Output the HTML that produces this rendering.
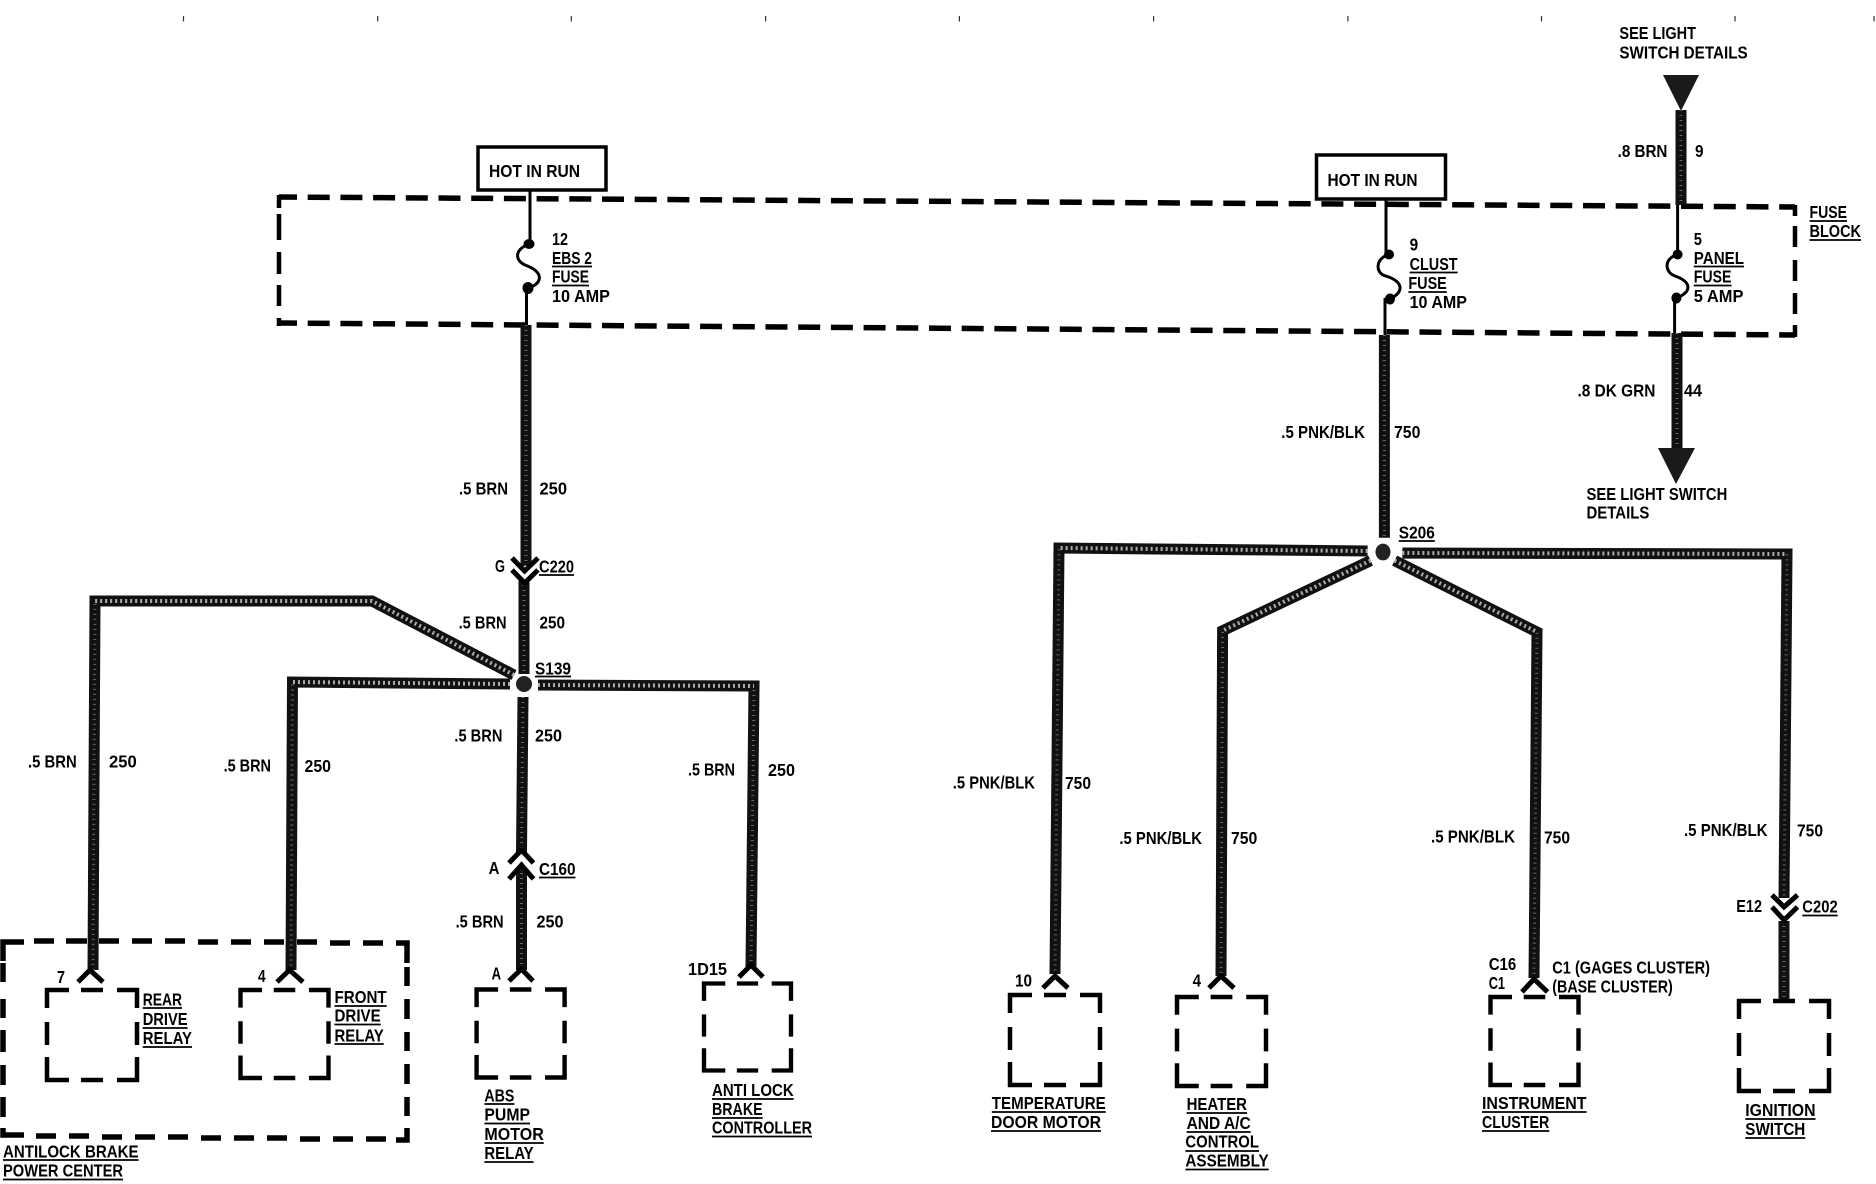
<!DOCTYPE html>
<html>
<head>
<meta charset="utf-8">
<style>
html,body{margin:0;padding:0;background:#fff;width:1876px;height:1184px;overflow:hidden}
svg{display:block}
text{font-family:"Liberation Sans",sans-serif;font-weight:bold;font-size:17.5px;fill:#000}
.d{fill:none;stroke:#000;stroke-width:5.5}
.t{fill:none;stroke:#000;stroke-width:3}
.c{fill:none;stroke:#000;stroke-width:5}
.u{fill:none;stroke:#000;stroke-width:1.8}
</style>
</head>
<body>
<svg xmlns="http://www.w3.org/2000/svg" width="1876" height="1184" viewBox="0 0 1876 1184">
<defs>
<path id="w" d="M526,325V566 M524,580V674 M514,675L372,601H95L93,970 M510,684L292.5,682L291,970 M538,685L754,686L751,967 M523,697L521.5,852 M521.5,868V970 M1384.4,335V537.7 M1367.6,551L1059,548L1055,974 M1402.4,553L1787,554L1784,898 M1784,921V1001 M1370.6,560.6L1222.6,630.7L1221,976 M1394.6,560.6L1537,632L1534,978 M1681,110V205 M1677,333V451"/>
<path id="h" d="M514,675L372,601H95 M510,684L292.5,682 M538,685L754,686 M1367.6,551L1059,548 M1402.4,553L1787,554 M1370.6,560.6L1222.6,630.7 M1394.6,560.6L1537,632"/>
<symbol id="b" overflow="visible" viewBox="0 0 90 90" width="90" height="90">
<path d="M0,18V0H22M34,0H56M70,0H90V18M0,32V55M90,32V55M0,67V90H22M34,90H56M70,90H90V67" fill="none" stroke="#000" stroke-width="4.5"/>
</symbol>
</defs>

<!-- ticks -->
<path fill="none" stroke="#333" stroke-width="1.2" d="M183.5,16V21.5M377.7,16V21.5M571.3,16V21.5M765.6,16V21.5M959.4,16V21.5M1153.6,16V21.5M1347.9,16V21.5M1541.5,16V21.5M1735,16V21.5M1874,16V21.5"/>

<!-- fuse block -->
<line class="d" x1="279" y1="197" x2="1795" y2="207" stroke-dasharray="22 10.7" stroke-dashoffset="4"/>
<line class="d" x1="279" y1="323" x2="1795" y2="335" stroke-dasharray="22 10.7" stroke-dashoffset="4"/>
<path class="d" style="stroke-width:4.5" d="M279,195V208M279,214V240M279,252V274M279,285V306M279,318V326M1795,205V216M1795,226V247M1795,260V281M1795,293V314M1795,325V337"/>

<!-- power center -->
<path class="d" d="M3,961V942H24M34,941H54M66,941H87M99,941H119M132,941H152M165,941H185M198,942H218M231,942H251M264,942H284M297,942H317M330,943H350M363,943H383M396,943H407V963"/>
<path class="d" d="M3,963V982M3,999V1018M3,1030V1052M3,1065V1085M3,1097V1117M3,1128V1135H24M36,1136H56M69,1136H89M102,1137H122M135,1137H155M168,1137H188M201,1138H221M234,1138H254M267,1138H287M300,1139H320M333,1139H353M366,1139H386M396,1140H407V1128M407,1116V1097M407,1084V1064M407,1051V1032M407,1019V999M407,986V967"/>

<!-- wires -->
<use href="#w" fill="none" stroke="#111" stroke-width="11"/>
<use href="#w" fill="none" stroke="#666" stroke-width="3" stroke-dasharray="1 4"/>
<use href="#h" fill="none" stroke="#aaa" stroke-width="4" stroke-dasharray="2 3"/>

<!-- hot boxes -->
<rect x="478" y="147" width="128" height="43" fill="#fff" stroke="#000" stroke-width="3.5"/>
<rect x="1316.5" y="155" width="129" height="44" fill="#fff" stroke="#000" stroke-width="3.5"/>

<!-- fuses -->
<path class="t" d="M530,190V245M526.5,290V325 M529,244C513,250 515,262 527.5,266C542,272 544,282 529,288"/>
<path class="t" d="M1386,199V253M1385,298V335 M1389,254.5C1375,258 1375,274 1386,276C1404,282 1404,292 1390,299"/>
<path class="t" d="M1677.6,205V253M1674.6,298V333 M1677.6,254.5C1664,258 1664,272 1675,276C1692,282 1692,292 1676.4,298"/>
<ellipse cx="529" cy="244" rx="5.5" ry="5"/><ellipse cx="528" cy="288" rx="5.5" ry="6"/>
<ellipse cx="1389" cy="254.5" rx="5" ry="5"/><ellipse cx="1390" cy="299" rx="5" ry="5.5"/>
<ellipse cx="1677.6" cy="254.5" rx="5" ry="5"/><ellipse cx="1676.4" cy="298" rx="5" ry="5.5"/>

<!-- arrows -->
<path d="M1663,75H1699L1681,111Z" fill="#1a1a1a"/>
<path d="M1658,448H1695L1676,484Z" fill="#1a1a1a"/>

<!-- nodes -->
<ellipse cx="524" cy="684" rx="8" ry="8" fill="#222"/>
<ellipse cx="1383" cy="552" rx="7.5" ry="8.4" fill="#222"/>

<!-- chevrons -->
<path class="c" d="M512,558L524.6,571L538,558 M512,570L524.6,583L538,570"/>
<path class="c" d="M509,863L521.5,850L533.5,863 M509,879L521.5,865L533.5,879"/>
<path class="c" d="M1772,895L1784,907L1797.5,895 M1772,907L1784,920L1797.5,907"/>
<path class="c" d="M78,982L90,970L103,982 M277,982L289.5,970L303,982 M509,981L521.5,969L533,981 M739,977L751,965L763,977 M1043,988L1055,976L1068,988 M1209,988L1221,976L1234,988 M1522,992L1534,979L1547.5,992"/>

<!-- dashed boxes -->
<use href="#b" x="47" y="990"/>
<use href="#b" x="240" y="990" width="89" height="88"/>
<use href="#b" x="476.6" y="989" width="88" height="89"/>
<use href="#b" x="704" y="982" width="87" height="90"/>
<use href="#b" x="1010" y="995"/>
<use href="#b" x="1177" y="996.5" width="89" height="90"/>
<use href="#b" x="1490.5" y="996.5" width="88" height="89"/>
<use href="#b" x="1739" y="1001"/>

<!-- underlines -->
<path class="u" d="M552,266.5H592M552,285.5H589M539,575H574M535,676.5H571M539,877.5H575.5M142.7,1008H182M142.7,1028H187.6M142.7,1047H192M334.5,1006H386.7M334.5,1024.5H380.7M334.5,1044H383.7M484.4,1104H514.4M484.4,1123.5H530M484.4,1143H543.8M484.4,1162H533.6M712,1099H793.7M712,1118H762.6M712,1136.5H812M3,1160H138.5M3,1179.5H123M1409.6,272.5H1457.6M1408.4,292H1446.8M1693.8,266.5H1744M1693.8,285.5H1731.5M1809.5,221H1847M1809.5,240H1861M1398.8,541H1434.8M1802.3,915.5H1837.7M991.8,1112H1105.7M991,1131H1101M1186.6,1113H1247M1186.6,1132H1250.7M1185.4,1151H1259M1185.4,1169.5H1268.7M1482,1112H1586.5M1482,1131H1549.3M1745.3,1119H1815.5M1745.3,1138H1805.3"/>

<!-- labels -->
<g>
<text x="489" y="177" textLength="91" lengthAdjust="spacingAndGlyphs">HOT IN RUN</text>
<text x="1327.5" y="186" textLength="90" lengthAdjust="spacingAndGlyphs">HOT IN RUN</text>

<text x="552" y="245" textLength="16" lengthAdjust="spacingAndGlyphs">12</text>
<text x="552" y="264" textLength="40" lengthAdjust="spacingAndGlyphs">EBS 2</text>
<text x="552" y="282.4" textLength="37" lengthAdjust="spacingAndGlyphs">FUSE</text>
<text x="552" y="302" textLength="58" lengthAdjust="spacingAndGlyphs">10 AMP</text>

<text x="459" y="494.4" textLength="49" lengthAdjust="spacingAndGlyphs">.5 BRN</text>
<text x="539.5" y="494.4" textLength="27.5" lengthAdjust="spacingAndGlyphs">250</text>
<text x="495" y="572" textLength="10" lengthAdjust="spacingAndGlyphs">G</text>
<text x="539" y="572.5" textLength="35" lengthAdjust="spacingAndGlyphs">C220</text>
<text x="458.6" y="628.4" textLength="48" lengthAdjust="spacingAndGlyphs">.5 BRN</text>
<text x="539.5" y="628.4" textLength="25.5" lengthAdjust="spacingAndGlyphs">250</text>
<text x="535" y="674.3" textLength="36" lengthAdjust="spacingAndGlyphs">S139</text>
<text x="454.4" y="741.7" textLength="48" lengthAdjust="spacingAndGlyphs">.5 BRN</text>
<text x="535" y="741.7" textLength="27" lengthAdjust="spacingAndGlyphs">250</text>
<text x="28" y="767.7" textLength="48.7" lengthAdjust="spacingAndGlyphs">.5 BRN</text>
<text x="109" y="767.7" textLength="27.7" lengthAdjust="spacingAndGlyphs">250</text>
<text x="223.6" y="771.5" textLength="47.4" lengthAdjust="spacingAndGlyphs">.5 BRN</text>
<text x="304.5" y="772" textLength="26.5" lengthAdjust="spacingAndGlyphs">250</text>
<text x="688" y="775.3" textLength="47" lengthAdjust="spacingAndGlyphs">.5 BRN</text>
<text x="768" y="776" textLength="27" lengthAdjust="spacingAndGlyphs">250</text>
<text x="488.6" y="874" textLength="10.8" lengthAdjust="spacingAndGlyphs">A</text>
<text x="539" y="875" textLength="36.5" lengthAdjust="spacingAndGlyphs">C160</text>
<text x="455.6" y="927.7" textLength="48" lengthAdjust="spacingAndGlyphs">.5 BRN</text>
<text x="536.5" y="927.7" textLength="27" lengthAdjust="spacingAndGlyphs">250</text>
<text x="491.6" y="979.7" textLength="9.4" lengthAdjust="spacingAndGlyphs">A</text>
<text x="688" y="975" textLength="39" lengthAdjust="spacingAndGlyphs">1D15</text>
<text x="57" y="983" textLength="8" lengthAdjust="spacingAndGlyphs">7</text>
<text x="258" y="982" textLength="7.6" lengthAdjust="spacingAndGlyphs">4</text>

<text x="142.7" y="1005.7" textLength="39.3" lengthAdjust="spacingAndGlyphs">REAR</text>
<text x="142.7" y="1025" textLength="44.9" lengthAdjust="spacingAndGlyphs">DRIVE</text>
<text x="142.7" y="1044" textLength="49.3" lengthAdjust="spacingAndGlyphs">RELAY</text>
<text x="334.5" y="1003" textLength="52.2" lengthAdjust="spacingAndGlyphs">FRONT</text>
<text x="334.5" y="1021.4" textLength="46.2" lengthAdjust="spacingAndGlyphs">DRIVE</text>
<text x="334.5" y="1041.3" textLength="49.2" lengthAdjust="spacingAndGlyphs">RELAY</text>
<text x="484.4" y="1101.4" textLength="30" lengthAdjust="spacingAndGlyphs">ABS</text>
<text x="484.4" y="1120.5" textLength="45.6" lengthAdjust="spacingAndGlyphs">PUMP</text>
<text x="484.4" y="1140" textLength="59.4" lengthAdjust="spacingAndGlyphs">MOTOR</text>
<text x="484.4" y="1158.8" textLength="49.2" lengthAdjust="spacingAndGlyphs">RELAY</text>
<text x="712" y="1096" textLength="81.7" lengthAdjust="spacingAndGlyphs">ANTI LOCK</text>
<text x="712" y="1115" textLength="50.6" lengthAdjust="spacingAndGlyphs">BRAKE</text>
<text x="712" y="1133.6" textLength="100" lengthAdjust="spacingAndGlyphs">CONTROLLER</text>
<text x="3" y="1157.3" textLength="135.5" lengthAdjust="spacingAndGlyphs">ANTILOCK BRAKE</text>
<text x="3" y="1176.4" textLength="120" lengthAdjust="spacingAndGlyphs">POWER CENTER</text>

<text x="1619.4" y="39" textLength="76.6" lengthAdjust="spacingAndGlyphs">SEE LIGHT</text>
<text x="1619.4" y="58.6" textLength="128.3" lengthAdjust="spacingAndGlyphs">SWITCH DETAILS</text>
<text x="1617.6" y="157" textLength="49.8" lengthAdjust="spacingAndGlyphs">.8 BRN</text>
<text x="1695" y="157" textLength="8.5" lengthAdjust="spacingAndGlyphs">9</text>
<text x="1409.6" y="250.7" textLength="8.5" lengthAdjust="spacingAndGlyphs">9</text>
<text x="1409.6" y="269.8" textLength="48" lengthAdjust="spacingAndGlyphs">CLUST</text>
<text x="1408.4" y="289" textLength="38.4" lengthAdjust="spacingAndGlyphs">FUSE</text>
<text x="1409.6" y="308" textLength="57.4" lengthAdjust="spacingAndGlyphs">10 AMP</text>
<text x="1693.8" y="245" textLength="8.2" lengthAdjust="spacingAndGlyphs">5</text>
<text x="1693.8" y="264" textLength="50.2" lengthAdjust="spacingAndGlyphs">PANEL</text>
<text x="1693.8" y="282.4" textLength="37.7" lengthAdjust="spacingAndGlyphs">FUSE</text>
<text x="1693.8" y="302" textLength="49.7" lengthAdjust="spacingAndGlyphs">5 AMP</text>
<text x="1809.5" y="218" textLength="37.5" lengthAdjust="spacingAndGlyphs">FUSE</text>
<text x="1809.5" y="237" textLength="51.5" lengthAdjust="spacingAndGlyphs">BLOCK</text>
<text x="1577.5" y="396.5" textLength="77.9" lengthAdjust="spacingAndGlyphs">.8 DK GRN</text>
<text x="1684" y="396.5" textLength="18" lengthAdjust="spacingAndGlyphs">44</text>
<text x="1281.3" y="438" textLength="83.7" lengthAdjust="spacingAndGlyphs">.5 PNK/BLK</text>
<text x="1394" y="438" textLength="26.4" lengthAdjust="spacingAndGlyphs">750</text>
<text x="1586.5" y="499.8" textLength="140.8" lengthAdjust="spacingAndGlyphs">SEE LIGHT SWITCH</text>
<text x="1586.5" y="518.6" textLength="62.9" lengthAdjust="spacingAndGlyphs">DETAILS</text>
<text x="1398.8" y="538.5" textLength="36" lengthAdjust="spacingAndGlyphs">S206</text>

<text x="952.8" y="788.4" textLength="82.2" lengthAdjust="spacingAndGlyphs">.5 PNK/BLK</text>
<text x="1065" y="789" textLength="26" lengthAdjust="spacingAndGlyphs">750</text>
<text x="1119.4" y="844" textLength="82.6" lengthAdjust="spacingAndGlyphs">.5 PNK/BLK</text>
<text x="1231" y="844" textLength="26.3" lengthAdjust="spacingAndGlyphs">750</text>
<text x="1431" y="842.7" textLength="84" lengthAdjust="spacingAndGlyphs">.5 PNK/BLK</text>
<text x="1544" y="843.5" textLength="26" lengthAdjust="spacingAndGlyphs">750</text>
<text x="1684" y="835.8" textLength="83.5" lengthAdjust="spacingAndGlyphs">.5 PNK/BLK</text>
<text x="1797" y="836.6" textLength="26" lengthAdjust="spacingAndGlyphs">750</text>
<text x="1736.3" y="912" textLength="25.7" lengthAdjust="spacingAndGlyphs">E12</text>
<text x="1802.3" y="912.4" textLength="35.4" lengthAdjust="spacingAndGlyphs">C202</text>
<text x="1015" y="986.6" textLength="17" lengthAdjust="spacingAndGlyphs">10</text>
<text x="1192.6" y="986.6" textLength="8.4" lengthAdjust="spacingAndGlyphs">4</text>
<text x="1488.7" y="969.8" textLength="27.6" lengthAdjust="spacingAndGlyphs">C16</text>
<text x="1488.7" y="989" textLength="16.3" lengthAdjust="spacingAndGlyphs">C1</text>
<text x="1552.3" y="973.6" textLength="157.7" lengthAdjust="spacingAndGlyphs">C1 (GAGES CLUSTER)</text>
<text x="1552.3" y="992.7" textLength="120.5" lengthAdjust="spacingAndGlyphs">(BASE CLUSTER)</text>
<text x="991.8" y="1109" textLength="113.9" lengthAdjust="spacingAndGlyphs">TEMPERATURE</text>
<text x="991" y="1128" textLength="110" lengthAdjust="spacingAndGlyphs">DOOR MOTOR</text>
<text x="1186.6" y="1110" textLength="60.4" lengthAdjust="spacingAndGlyphs">HEATER</text>
<text x="1186.6" y="1129" textLength="64.1" lengthAdjust="spacingAndGlyphs">AND A/C</text>
<text x="1185.4" y="1147.7" textLength="73.6" lengthAdjust="spacingAndGlyphs">CONTROL</text>
<text x="1185.4" y="1166.5" textLength="83.3" lengthAdjust="spacingAndGlyphs">ASSEMBLY</text>
<text x="1482" y="1109" textLength="104.5" lengthAdjust="spacingAndGlyphs">INSTRUMENT</text>
<text x="1482" y="1128" textLength="67.3" lengthAdjust="spacingAndGlyphs">CLUSTER</text>
<text x="1745.3" y="1116" textLength="70.2" lengthAdjust="spacingAndGlyphs">IGNITION</text>
<text x="1745.3" y="1135" textLength="60" lengthAdjust="spacingAndGlyphs">SWITCH</text>
</g>
</svg>
</body>
</html>
